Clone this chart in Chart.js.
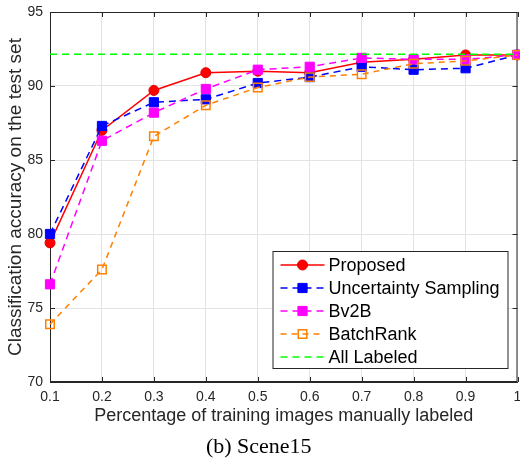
<!DOCTYPE html>
<html>
<head>
<meta charset="utf-8">
<script src="https://cdn.jsdelivr.net/npm/chart.js@4.4.1/dist/chart.umd.min.js"></script>
<style>
  html, body { margin: 0; padding: 0; background: #fff; }
  #wrap { width: 520px; height: 463px; }
</style>
</head>
<body>
<div id="wrap"><canvas id="sceneChart" width="520" height="463"></canvas></div>
<script>
// x values: fraction of training images labeled
const fractions = [0.1, 0.2, 0.3, 0.4, 0.5, 0.6, 0.7, 0.8, 0.9, 1.0];
const yTicks = [70, 75, 80, 85, 90, 95];

// accuracies
const proposed    = [79.4, 87.0, 89.7, 90.9, 91.0, 90.9, 91.6, 91.8, 92.1, 92.1];
const uncertainty = [80.0, 87.3, 88.9, 89.1, 90.2, 90.6, 91.3, 91.1, 91.2, 92.1];
const bv2b        = [76.6, 86.3, 88.2, 89.8, 91.1, 91.3, 91.9, 91.8, 91.8, 92.1];
const batchRank   = [73.9, 77.6, 86.6, 88.7, 89.9, 90.6, 90.8, 91.5, 91.7, 92.1];
const allLabeled  = 92.15;

const FONT = "'Liberation Sans', Arial, sans-serif";
const AXIS = '#262626';

function pts(vals) {
  return vals.map((v, i) => ({ x: fractions[i], y: v }));
}

// box round the plot with ticks pointing inward (matlab style)
const boxPlugin = {
  id: 'box',
  beforeDatasetsDraw(chart) {
    const { ctx, chartArea: a, scales } = chart;
    ctx.save();
    ctx.strokeStyle = AXIS;
    ctx.lineWidth = 1;
    ctx.strokeRect(a.left + 0.5, a.top + 0.5, a.right - a.left - 1, a.bottom - a.top - 1);
    ctx.beginPath();
    scales.x.ticks.forEach(t => {
      const px = Math.round(scales.x.getPixelForValue(t.value)) + 0.5;
      ctx.moveTo(px, a.bottom); ctx.lineTo(px, a.bottom - 5);
      ctx.moveTo(px, a.top); ctx.lineTo(px, a.top + 5);
    });
    scales.y.ticks.forEach(t => {
      const py = Math.round(scales.y.getPixelForValue(t.value)) + 0.5;
      ctx.moveTo(a.left, py); ctx.lineTo(a.left + 5, py);
      ctx.moveTo(a.right, py); ctx.lineTo(a.right - 5, py);
    });
    ctx.stroke();
    ctx.restore();
  }
};

// legend drawn inside the plot, bottom right
const insideLegend = {
  id: 'insideLegend',
  afterDraw(chart) {
    const { ctx, chartArea: a } = chart;
    const sets = chart.data.datasets;
    const rowH = 23, boxW = 235, boxH = 117;
    const x0 = a.right - 10 - boxW, y0 = a.bottom - 14 - boxH;
    ctx.save();
    ctx.fillStyle = '#fff';
    ctx.fillRect(x0, y0, boxW, boxH);
    ctx.strokeStyle = AXIS;
    ctx.lineWidth = 1;
    ctx.strokeRect(x0 + 0.5, y0 + 0.5, boxW, boxH);
    ctx.font = '18px ' + FONT;
    ctx.textBaseline = 'middle';
    sets.forEach((ds, i) => {
      const cy = y0 + 14 + i * rowH;
      ctx.strokeStyle = ds.borderColor;
      ctx.lineWidth = ds.borderWidth;
      ctx.setLineDash(ds.borderDash || []);
      ctx.beginPath();
      ctx.moveTo(x0 + 8, cy); ctx.lineTo(x0 + 52, cy);
      ctx.stroke();
      ctx.setLineDash([]);
      if (ds.pointRadius > 0) {
        ctx.fillStyle = ds.pointBackgroundColor;
        ctx.strokeStyle = ds.pointBorderColor;
        ctx.lineWidth = ds.pointBorderWidth;
        Chart.helpers.drawPoint(ctx, {
          pointStyle: ds.pointStyle,
          radius: ds.pointRadius,
          rotation: 0,
          borderWidth: ds.pointBorderWidth
        }, x0 + 30, cy);
      }
      ctx.fillStyle = '#000';
      ctx.fillText(ds.label, x0 + 56, cy + 1);
    });
    ctx.restore();
  }
};

new Chart(document.getElementById('sceneChart'), {
  type: 'line',
  data: {
    datasets: [
      {
        label: 'Proposed',
        data: pts(proposed),
        borderColor: '#ff0000',
        borderWidth: 1.5,
        pointStyle: 'circle',
        pointRadius: 5,
        pointBackgroundColor: '#ff0000',
        pointBorderColor: '#e00000',
        pointBorderWidth: 1,
        clip: false,
        order: 5
      },
      {
        label: 'Uncertainty Sampling',
        data: pts(uncertainty),
        borderColor: '#0000ff',
        borderWidth: 1.5,
        borderDash: [7, 5],
        pointStyle: 'rect',
        pointRadius: 6.5,
        pointBackgroundColor: '#0000ff',
        pointBorderColor: '#0000ff',
        pointBorderWidth: 1,
        clip: false,
        order: 4
      },
      {
        label: 'Bv2B',
        data: pts(bv2b),
        borderColor: '#ff00ff',
        borderWidth: 1.5,
        borderDash: [7, 5],
        pointStyle: 'rect',
        pointRadius: 6.5,
        pointBackgroundColor: '#ff00ff',
        pointBorderColor: '#ff00ff',
        pointBorderWidth: 1,
        clip: false,
        order: 3
      },
      {
        label: 'BatchRank',
        data: pts(batchRank),
        borderColor: '#ff8000',
        borderWidth: 1.5,
        borderDash: [6, 5],
        pointStyle: 'rect',
        pointRadius: 6,
        pointBackgroundColor: 'rgba(255,255,255,0)',
        pointBorderColor: '#ff8000',
        pointBorderWidth: 1.5,
        clip: false,
        order: 2
      },
      {
        label: 'All Labeled',
        data: fractions.map(f => ({ x: f, y: allLabeled })),
        borderColor: '#00ff00',
        borderWidth: 1.5,
        borderDash: [7, 5],
        pointRadius: 0,
        clip: false,
        order: 1
      }
    ]
  },
  plugins: [boxPlugin, insideLegend],
  options: {
    responsive: false,
    animation: false,
    layout: { autoPadding: false, padding: { top: 12, right: 2.5, left: 0, bottom: 0 } },
    plugins: {
      legend: { display: false },
      tooltip: { enabled: false },
      title: {
        display: true,
        position: 'bottom',
        text: '(b) Scene15',
        color: '#000',
        font: { family: "'Liberation Serif', 'Times New Roman', serif", size: 22, weight: 'normal' },
        padding: { top: 6.6, bottom: 3 }
      }
    },
    scales: {
      x: {
        type: 'linear',
        min: 0.1,
        max: 1,
        afterBuildTicks: (s) => { s.ticks = fractions.map(v => ({ value: v })); },
        afterFit: (s) => { s.height = 45; s.paddingLeft = 0; s.paddingRight = 0; },
        grid: { color: '#e3e3e3', drawTicks: false },
        border: { color: AXIS },
        ticks: {
          color: '#262626',
          padding: 7,
          maxRotation: 0,
          font: { family: FONT, size: 14 },
          callback: (v) => (v === 1 ? '1' : v.toFixed(1))
        },
        title: {
          display: true,
          text: 'Percentage of training images manually labeled',
          color: '#262626',
          font: { family: FONT, size: 18 },
          padding: { top: 0, bottom: 0 }
        }
      },
      y: {
        min: 70,
        max: 95,
        afterBuildTicks: (s) => { s.ticks = yTicks.map(v => ({ value: v })); },
        afterFit: (s) => { s.width = 50; s.paddingTop = 0; s.paddingBottom = 0; },
        grid: { color: '#e3e3e3', drawTicks: false },
        border: { color: AXIS },
        ticks: {
          color: '#262626',
          padding: 7,
          font: { family: FONT, size: 14 }
        },
        title: {
          display: true,
          text: 'Classification accuracy on the test set',
          color: '#262626',
          font: { family: FONT, size: 19 },
          padding: { top: 4, bottom: 0 }
        }
      }
    }
  }
});
</script>
</body>
</html>
